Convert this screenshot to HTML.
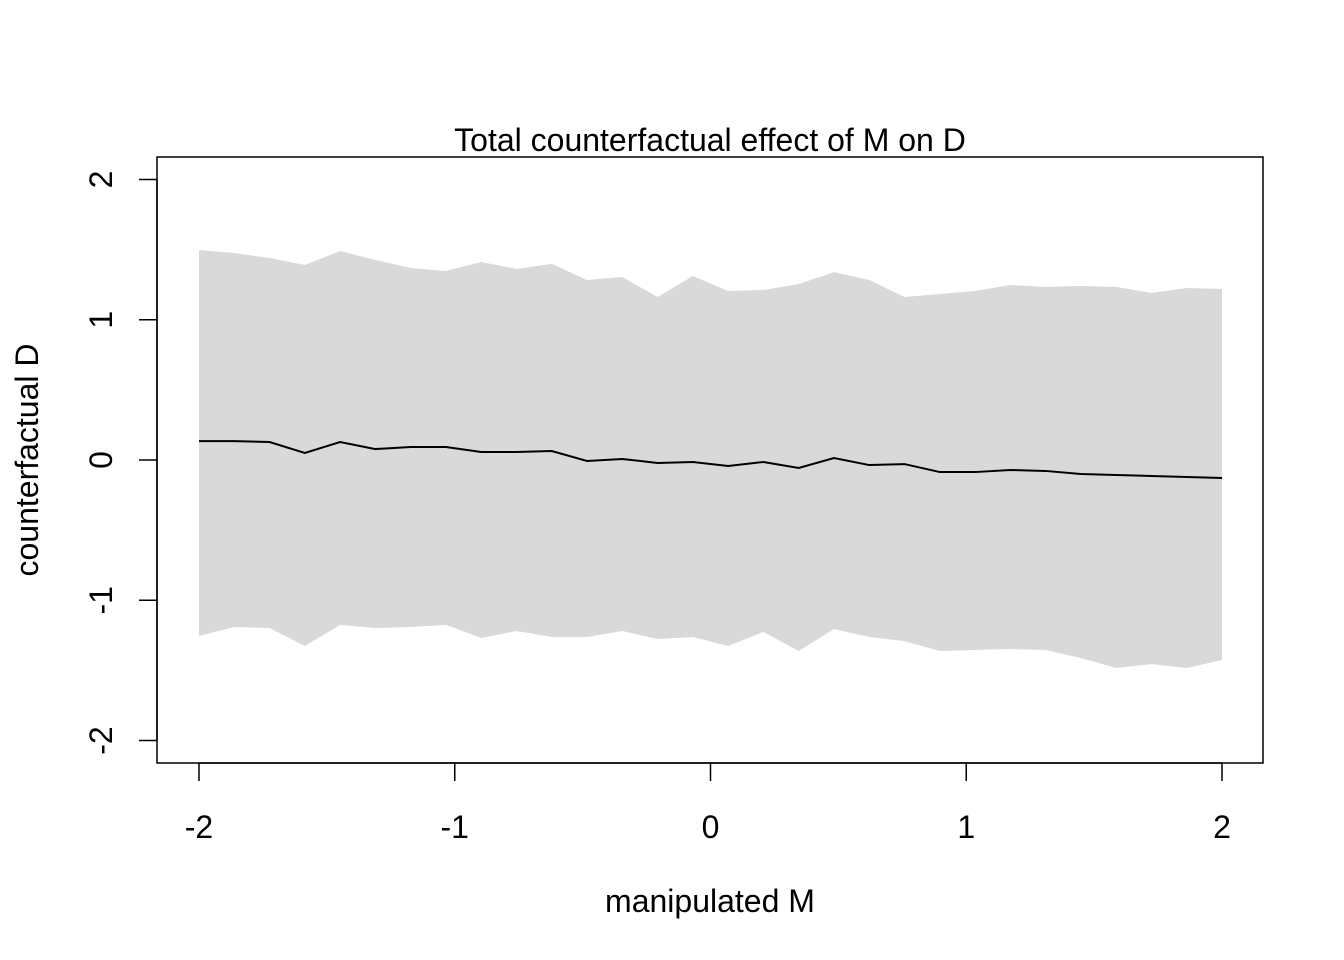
<!DOCTYPE html>
<html><head><meta charset="utf-8"><style>
html,body{margin:0;padding:0;background:#fff;}
svg text{font-family:"Liberation Sans",Arial,sans-serif;fill:#000;}
</style></head><body>
<svg id="chart" width="1344" height="960" xmlns="http://www.w3.org/2000/svg" style="position:absolute;left:0;top:0">
<g id="band"></g><g id="line"></g><g id="axes"></g>
</svg>
<script>
const mSeq = [];
const nPts = 30;
const upper = [1.497,1.476,1.44,1.39,1.49,1.426,1.369,1.348,1.412,1.362,1.398,1.283,1.305,1.162,1.312,1.205,1.212,1.255,1.34,1.283,1.162,1.184,1.205,1.248,1.234,1.241,1.234,1.191,1.226,1.219];
const lower = [-1.255,-1.191,-1.198,-1.326,-1.176,-1.198,-1.191,-1.176,-1.269,-1.219,-1.262,-1.262,-1.219,-1.276,-1.262,-1.326,-1.226,-1.362,-1.205,-1.262,-1.291,-1.362,-1.355,-1.348,-1.355,-1.412,-1.483,-1.455,-1.483,-1.426];
const meanD = [0.135,0.135,0.128,0.05,0.128,0.078,0.093,0.093,0.057,0.057,0.064,-0.007,0.007,-0.021,-0.014,-0.043,-0.014,-0.057,0.014,-0.036,-0.029,-0.086,-0.086,-0.071,-0.078,-0.1,-0.107,-0.114,-0.121,-0.128];
const xTicks = [-2,-1,0,1,2];
const yTicks = [-2,-1,0,1,2];
for(let i=0;i<nPts;i++) mSeq.push(-2+4*i/(nPts-1));

const NS="http://www.w3.org/2000/svg";
const X = v => 199 + (v+2)*255.75;
const Y = v => 460 - v*140.25;
function mk(tag, attrs, parent, text){
  const e=document.createElementNS(NS,tag);
  for(const k in attrs) e.setAttribute(k,attrs[k]);
  if(text!==undefined) e.textContent=text;
  parent.appendChild(e); return e;
}
const band=document.getElementById('band'), line=document.getElementById('line'), axes=document.getElementById('axes');

let pts = mSeq.map((m,i)=>X(m)+','+Y(upper[i]));
for(let i=nPts-1;i>=0;i--) pts.push(X(mSeq[i])+','+Y(lower[i]));
const poly = mk('polygon',{points:pts.join(' '),fill:'#d9d9d9',stroke:'none'},band);



const pl = mk('polyline',{points:mSeq.map((m,i)=>X(m)+','+Y(meanD[i])).join(' '),fill:'none',stroke:'#000','stroke-width':2},line);



const box = mk('rect',{x:157,y:157,width:1106,height:606,fill:'none',stroke:'#000','stroke-width':1.5},axes);



mk('line',{x1:X(-2),x2:X(2),y1:763,y2:763,stroke:'#000','stroke-width':1.5},axes);
xTicks.forEach(t=>{
  mk('line',{x1:X(t),x2:X(t),y1:763,y2:781,stroke:'#000','stroke-width':1.5},axes);
  const tx = mk('text',{x:X(t),y:838,'font-size':32,'text-anchor':'middle'},axes,String(t));
  
  
});
mk('line',{x1:157,x2:157,y1:Y(2),y2:Y(-2),stroke:'#000','stroke-width':1.5},axes);
yTicks.forEach(t=>{
  mk('line',{x1:139,x2:157,y1:Y(t),y2:Y(t),stroke:'#000','stroke-width':1.5},axes);
  const ty = mk('text',{x:0,y:0,'font-size':32,'text-anchor':'middle',transform:`translate(112,${Y(t)}) rotate(-90)`},axes,String(t));
  
  
});
</script>
<svg style="position:absolute;left:0;top:0" width="1344" height="960" xmlns="http://www.w3.org/2000/svg">
<text x="710" y="151" font-size="32" text-anchor="middle" style="font-family:'Liberation Sans',Arial,sans-serif">Total counterfactual effect of M on D</text>
<text x="710" y="912" font-size="32" text-anchor="middle" style="font-family:'Liberation Sans',Arial,sans-serif">manipulated M</text>
<text x="0" y="0" font-size="32" text-anchor="middle" transform="translate(38,460) rotate(-90)" style="font-family:'Liberation Sans',Arial,sans-serif">counterfactual D</text>
</svg>
</body></html>
